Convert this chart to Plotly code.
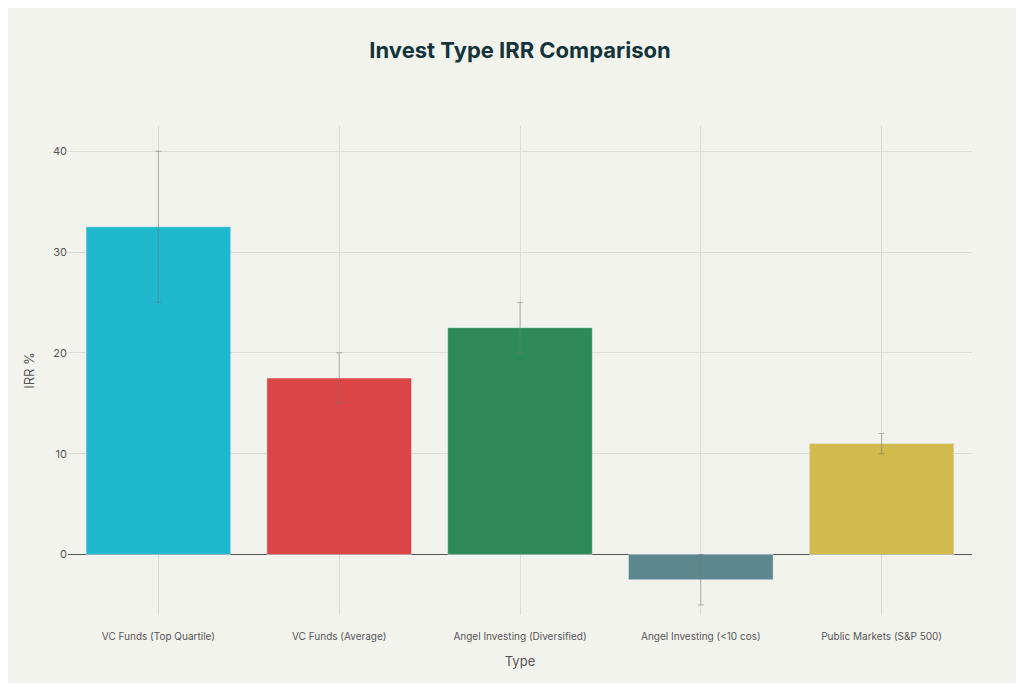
import plotly.graph_objects as go

types = ["VC Funds (Top Quartile)", "VC Funds (Average)", "Angel Investing (Diversified)",
         "Angel Investing (<10 cos)", "Public Markets (S&P 500)"]
irr = [32.5, 17.5, 22.5, -2.5, 11]
err_plus = [7.5, 2.5, 2.5, 2.5, 1]
err_minus = [7.5, 2.5, 2.5, 2.5, 1]
colors = ["#1FB8CD", "#DB4545", "#2E8B57", "#5D878F", "#D2BA4C"]

fig = go.Figure(go.Bar(
    x=types, y=irr, marker_color=colors,
    error_y=dict(type="data", array=err_plus, arrayminus=err_minus,
                 color="rgba(120,120,120,0.5)", thickness=1, width=3),
))

fig.update_layout(
    title=dict(text="<b>Invest Type IRR Comparison</b>", x=0.5, y=0.95,
               font=dict(size=22, color="#13343B", family="Inter")),
    paper_bgcolor="#F3F3EE", plot_bgcolor="#F3F3EE",
    font=dict(family="Inter", color="#555", size=11),
    width=1024, height=683,
    margin=dict(l=60, r=60, t=118, b=76),
    showlegend=False, bargap=0.2,
)
fig.update_xaxes(title_text="Type", showgrid=True, gridcolor="#dcdcd6",
                 tickfont=dict(size=10), ticklabelstandoff=14)
fig.update_yaxes(title_text="IRR %", range=[-6, 42.5], dtick=10, gridcolor="#dcdcd6",
                 zeroline=True, zerolinecolor="#555", zerolinewidth=1)

fig.write_html("out.html")
